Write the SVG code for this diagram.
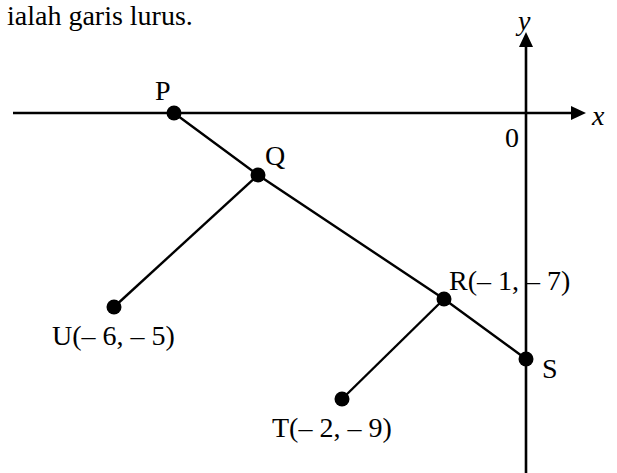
<svg xmlns="http://www.w3.org/2000/svg" width="617" height="473" viewBox="0 0 617 473">
<style>
text{font-family:"Liberation Serif","Times New Roman",serif;font-size:28px;fill:#000}
.it{font-style:italic}
.ln{stroke:#000;stroke-width:2.4;fill:none}
.ax{stroke:#000;stroke-width:2.6;fill:none}
.dot{fill:#000}
</style>
<rect width="617" height="473" fill="#fff"/>
<text x="7" y="25">ialah garis lurus.</text>
<g id="axes">
<line class="ax" x1="13" y1="113" x2="572" y2="113"/>
<polygon points="586,113 571,106 571,120" fill="#000"/>
<line class="ax" x1="526" y1="473" x2="526" y2="46"/>
<polygon points="526,32 519,47 533,47" fill="#000"/>
<text x="505" y="147">0</text>
<text class="it" x="592" y="125">x</text>
<text class="it" x="518" y="30">y</text>
</g>
<g id="connectors">
<polyline class="ln" points="174,113 258,175 444,299 526,359"/>
<line class="ln" x1="258" y1="175" x2="114" y2="307"/>
<line class="ln" x1="444" y1="299" x2="342" y2="399"/>
</g>
<g id="P"><circle class="dot" cx="174" cy="113" r="7.5"/><text x="155" y="100">P</text></g>
<g id="Q"><circle class="dot" cx="258" cy="175" r="7.5"/><text x="265" y="165">Q</text></g>
<g id="R"><circle class="dot" cx="444" cy="299" r="7.5"/><text x="449" y="290">R(– 1, – 7)</text></g>
<g id="S"><circle class="dot" cx="526" cy="359" r="7.5"/><text x="542" y="378">S</text></g>
<g id="U"><circle class="dot" cx="114" cy="307" r="7.5"/><text x="52" y="345">U(– 6, – 5)</text></g>
<g id="T"><circle class="dot" cx="342" cy="399" r="7.5"/><text x="272" y="437">T(– 2, – 9)</text></g>
</svg>
